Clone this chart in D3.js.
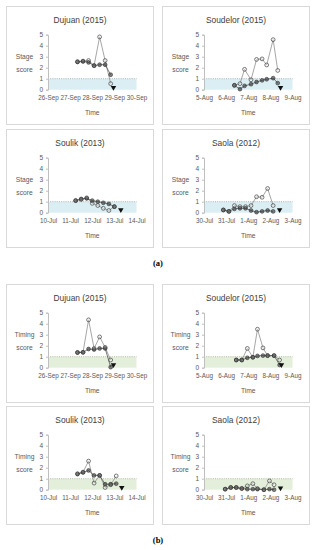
<!DOCTYPE html>
<html><head><meta charset="utf-8">
<script src="https://cdn.jsdelivr.net/npm/d3@7"></script>
<style>body{margin:0;background:#fff}svg{display:block}</style>
</head><body>
<script>
// ---------- DATA ----------
const stormNames = ["Dujuan (2015)", "Soudelor (2015)", "Soulik (2013)", "Saola (2012)"];
const axisStarts = ["2015-09-26 00", "2015-08-05 00", "2013-07-10 00", "2012-07-30 00"];
const yTicks = [0, 1, 2, 3, 4, 5];
const partLabels = ["(a)", "(b)"];
const scoreLabels = ["Stage", "Timing"];

// (a) Stage score
const dujuanStageTimes = ["2015-09-27 08","2015-09-27 14","2015-09-27 20","2015-09-28 02","2015-09-28 08","2015-09-28 14","2015-09-28 20"];
const dujuanStageOpen = [2.55, 2.6, 2.65, 2.2, 4.8, 2.65, 0.55];
const dujuanStageFilled = [2.52, 2.57, 2.48, 2.18, 2.27, 2.27, 1.36];
const dujuanStageTri = ["2015-09-28 23", 0.2];

const soudelorStageTimes = ["2015-08-06 09","2015-08-06 15","2015-08-06 20","2015-08-07 03","2015-08-07 09","2015-08-07 15","2015-08-07 20","2015-08-08 03","2015-08-08 08"];
const soudelorStageOpen = [0.4, 0.55, 1.85, 0.9, 2.75, 2.8, 2.25, 4.55, 1.75];
const soudelorStageFilled = [0.4, 0.05, 0.35, 0.5, 0.7, 0.85, 0.95, 1.05, 0.6];
const soudelorStageTri = ["2015-08-08 11", 0.2];

const soulikStageTimes = ["2013-07-11 06","2013-07-11 12","2013-07-11 18","2013-07-12 00","2013-07-12 06","2013-07-12 12","2013-07-12 18","2013-07-13 00"];
const soulikStageOpen = [1.1, 1.2, 1.35, 0.85, 0.65, 0.4, 0.2, 0.55];
const soulikStageFilled = [1.1, 1.25, 1.3, 1.1, 1.0, 0.9, 0.8, 0.55];
const soulikStageTri = ["2013-07-13 07", 0.25];

const saolaStageTimes = ["2012-07-30 21","2012-07-31 03","2012-07-31 09","2012-07-31 15","2012-07-31 21","2012-08-01 03","2012-08-01 09","2012-08-01 15","2012-08-01 21","2012-08-02 03"];
const saolaStageOpen = [0.25, 0.12, 0.65, 0.55, 0.55, 0.65, 1.45, 1.4, 2.2, 0.65];
const saolaStageFilled = [0.25, 0.12, 0.35, 0.4, 0.4, 0.2, 0.05, 0.12, 0.2, 0.12];
const saolaStageTri = ["2012-08-02 10", 0.25];

// (b) Timing score
const dujuanTimingTimes = ["2015-09-27 08","2015-09-27 14","2015-09-27 20","2015-09-28 02","2015-09-28 08","2015-09-28 14","2015-09-28 20"];
const dujuanTimingOpen = [1.38, 1.4, 4.35, 1.75, 2.8, 1.85, 0.7];
const dujuanTimingFilled = [1.38, 1.4, 1.7, 1.65, 1.75, 1.75, 0.05];
const dujuanTimingTri = ["2015-09-28 23", 0.25];

const soudelorTimingTimes = ["2015-08-06 11","2015-08-06 17","2015-08-06 23","2015-08-07 05","2015-08-07 10","2015-08-07 16","2015-08-07 21","2015-08-08 04","2015-08-08 10"];
const soudelorTimingOpen = [0.7, 0.7, 1.75, 0.95, 3.5, 1.8, 1.1, 1.1, 0.7];
const soudelorTimingFilled = [0.7, 0.7, 0.9, 0.95, 1.07, 1.1, 1.1, 1.1, 0.25];
const soudelorTimingTri = ["2015-08-08 12", 0.25];

const soulikTimingTimes = ["2013-07-11 08","2013-07-11 14","2013-07-11 20","2013-07-12 02","2013-07-12 08","2013-07-12 14","2013-07-12 20","2013-07-13 02"];
const soulikTimingOpen = [1.45, 1.6, 2.6, 0.6, 1.3, 0.2, 0.45, 1.25];
const soulikTimingFilled = [1.42, 1.57, 1.75, 1.3, 1.3, 0.5, 0.5, 0.55];
const soulikTimingTri = ["2013-07-13 08", 0.2];

const saolaTimingTimes = ["2012-07-30 23","2012-07-31 05","2012-07-31 11","2012-07-31 17","2012-07-31 23","2012-08-01 05","2012-08-01 10","2012-08-01 17","2012-08-01 23","2012-08-02 04"];
const saolaTimingOpen = [0.05, 0.2, 0.2, 0.12, 0.35, 0.55, 0.1, 0.0, 0.8, 0.45];
const saolaTimingFilled = [0.05, 0.2, 0.2, 0.1, 0.05, 0.05, 0.05, 0.0, 0.05, 0.0];
const saolaTimingTri = ["2012-08-02 11", 0.15];

// ---------- BUILD ----------
const parse = d3.timeParse("%Y-%m-%d %H");
const fmt = d3.timeFormat("%-d-%b");
const panelsData = [
  [
    {t: dujuanStageTimes, o: dujuanStageOpen, f: dujuanStageFilled, tri: dujuanStageTri},
    {t: soudelorStageTimes, o: soudelorStageOpen, f: soudelorStageFilled, tri: soudelorStageTri},
    {t: soulikStageTimes, o: soulikStageOpen, f: soulikStageFilled, tri: soulikStageTri},
    {t: saolaStageTimes, o: saolaStageOpen, f: saolaStageFilled, tri: saolaStageTri}
  ],
  [
    {t: dujuanTimingTimes, o: dujuanTimingOpen, f: dujuanTimingFilled, tri: dujuanTimingTri},
    {t: soudelorTimingTimes, o: soudelorTimingOpen, f: soudelorTimingFilled, tri: soudelorTimingTri},
    {t: soulikTimingTimes, o: soulikTimingOpen, f: soulikTimingFilled, tri: soulikTimingTri},
    {t: saolaTimingTimes, o: saolaTimingOpen, f: saolaTimingFilled, tri: saolaTimingTri}
  ]
];

const W = 317, H = 550;
const svg = d3.select("body").append("svg").attr("width", W).attr("height", H)
  .style("font-family", "'Liberation Sans', Arial, sans-serif");

const colX = [6, 162];
const rowY = [[6, 129], [284, 406]];
const panelW = 147, panelH = 118;
const bandFill = ["#daeef4", "#e3efda"];
const dotStroke = ["#9aa3a8", "#9fb08a"];
const labelY = [262.5, 540];

partLabels.forEach((lab, p) => {
  panelsData[p].forEach((pd, i) => {
    const px = colX[i % 2], py = rowY[p][Math.floor(i / 2)];
    const g = svg.append("g").attr("transform", `translate(${px},${py})`);
    g.append("rect").attr("x", 0.5).attr("y", 0.5).attr("width", panelW).attr("height", panelH)
      .attr("fill", "#fff").attr("stroke", "#d9d9d9").attr("stroke-width", 1);
    g.append("text").attr("x", panelW / 2 + 0.5).attr("y", 14).attr("text-anchor", "middle")
      .attr("dominant-baseline", "central").attr("font-size", 8.4).attr("fill", "#404040")
      .text(stormNames[i]);

    const start = parse(axisStarts[i]);
    const end = d3.timeDay.offset(start, 4);
    const plotL = 42, plotW = 88.5, yTop = 28.7, yBot = 83.7;
    const x = d3.scaleTime().domain([start, end]).range([plotL, plotL + plotW]);
    const y = d3.scaleLinear().domain([0, 5]).range([yBot, yTop]);

    // band and threshold line
    g.append("rect").attr("x", x(start)).attr("y", y(1)).attr("width", x(end) - x(start))
      .attr("height", y(0) - y(1)).attr("fill", bandFill[p]);
    g.append("line").attr("x1", x(start)).attr("x2", x(end)).attr("y1", y(1)).attr("y2", y(1))
      .attr("stroke", dotStroke[p]).attr("stroke-width", 0.8).attr("stroke-dasharray", "1,1.2");

    // y axis
    const ya = g.append("g").attr("transform", `translate(${plotL},0)`)
      .call(d3.axisLeft(y).tickValues(yTicks).tickFormat(d3.format("d")).tickSize(2).tickPadding(3));
    ya.select(".domain").attr("stroke", "#bfbfbf");
    ya.selectAll(".tick line").attr("stroke", "#bfbfbf");
    ya.selectAll("text").attr("font-size", 6.5).attr("fill", "#595959").attr("font-family", "'Liberation Sans', Arial, sans-serif");

    // x axis labels
    const xa = g.append("g").attr("transform", `translate(0,${yBot})`)
      .call(d3.axisBottom(x).ticks(d3.timeDay.every(1)).tickFormat(fmt).tickSize(0).tickPadding(6));
    xa.select(".domain").attr("stroke", "none");
    xa.selectAll("text").attr("font-size", 6.3).attr("fill", "#595959").attr("font-family", "'Liberation Sans', Arial, sans-serif");

    // axis titles
    g.append("text").attr("x", 18.5).attr("y", y(3)).attr("text-anchor", "middle")
      .attr("dominant-baseline", "central").attr("font-size", 6.7).attr("fill", "#595959").text(scoreLabels[p]);
    g.append("text").attr("x", 18.5).attr("y", y(2) + 2).attr("text-anchor", "middle")
      .attr("dominant-baseline", "central").attr("font-size", 6.7).attr("fill", "#595959").text("score");
    g.append("text").attr("x", plotL + plotW / 2).attr("y", 106.3).attr("text-anchor", "middle")
      .attr("dominant-baseline", "central").attr("font-size", 6.7).attr("fill", "#595959").text("Time");

    const times = pd.t.map(parse);
    const openPts = times.map((t, k) => [x(t), y(pd.o[k])]);
    const fillPts = times.map((t, k) => [x(t), y(pd.f[k])]);
    const line = d3.line();
    g.append("path").attr("d", line(openPts)).attr("fill", "none").attr("stroke", "#808080").attr("stroke-width", 0.7);
    g.append("path").attr("d", line(fillPts)).attr("fill", "none").attr("stroke", "#404040").attr("stroke-width", 0.7);

    g.selectAll(null).data(openPts).enter().append("circle")
      .attr("cx", d => d[0]).attr("cy", d => d[1]).attr("r", 1.9)
      .attr("fill", "#ffffff").attr("fill-opacity", 0.35).attr("stroke", "#404040").attr("stroke-width", 0.7);
    g.selectAll(null).data(fillPts).enter().append("circle")
      .attr("cx", d => d[0]).attr("cy", d => d[1]).attr("r", 1.9)
      .attr("fill", "#3a3a3a").attr("fill-opacity", 0.62).attr("stroke", "#333").attr("stroke-width", 0.6);

    const tx = x(parse(pd.tri[0])), ty = y(pd.tri[1]);
    g.append("path").attr("transform", `translate(${tx},${ty}) rotate(180)`)
      .attr("d", d3.symbol(d3.symbolTriangle, 13)()).attr("fill", "#111");
  });
  svg.append("text").attr("x", 158).attr("y", labelY[p]).attr("text-anchor", "middle")
    .attr("dominant-baseline", "central").attr("font-family", "'Liberation Serif', 'Times New Roman', serif")
    .attr("font-weight", "bold").attr("font-size", 8.5).attr("fill", "#000").text(lab);
});
</script>
</body></html>
